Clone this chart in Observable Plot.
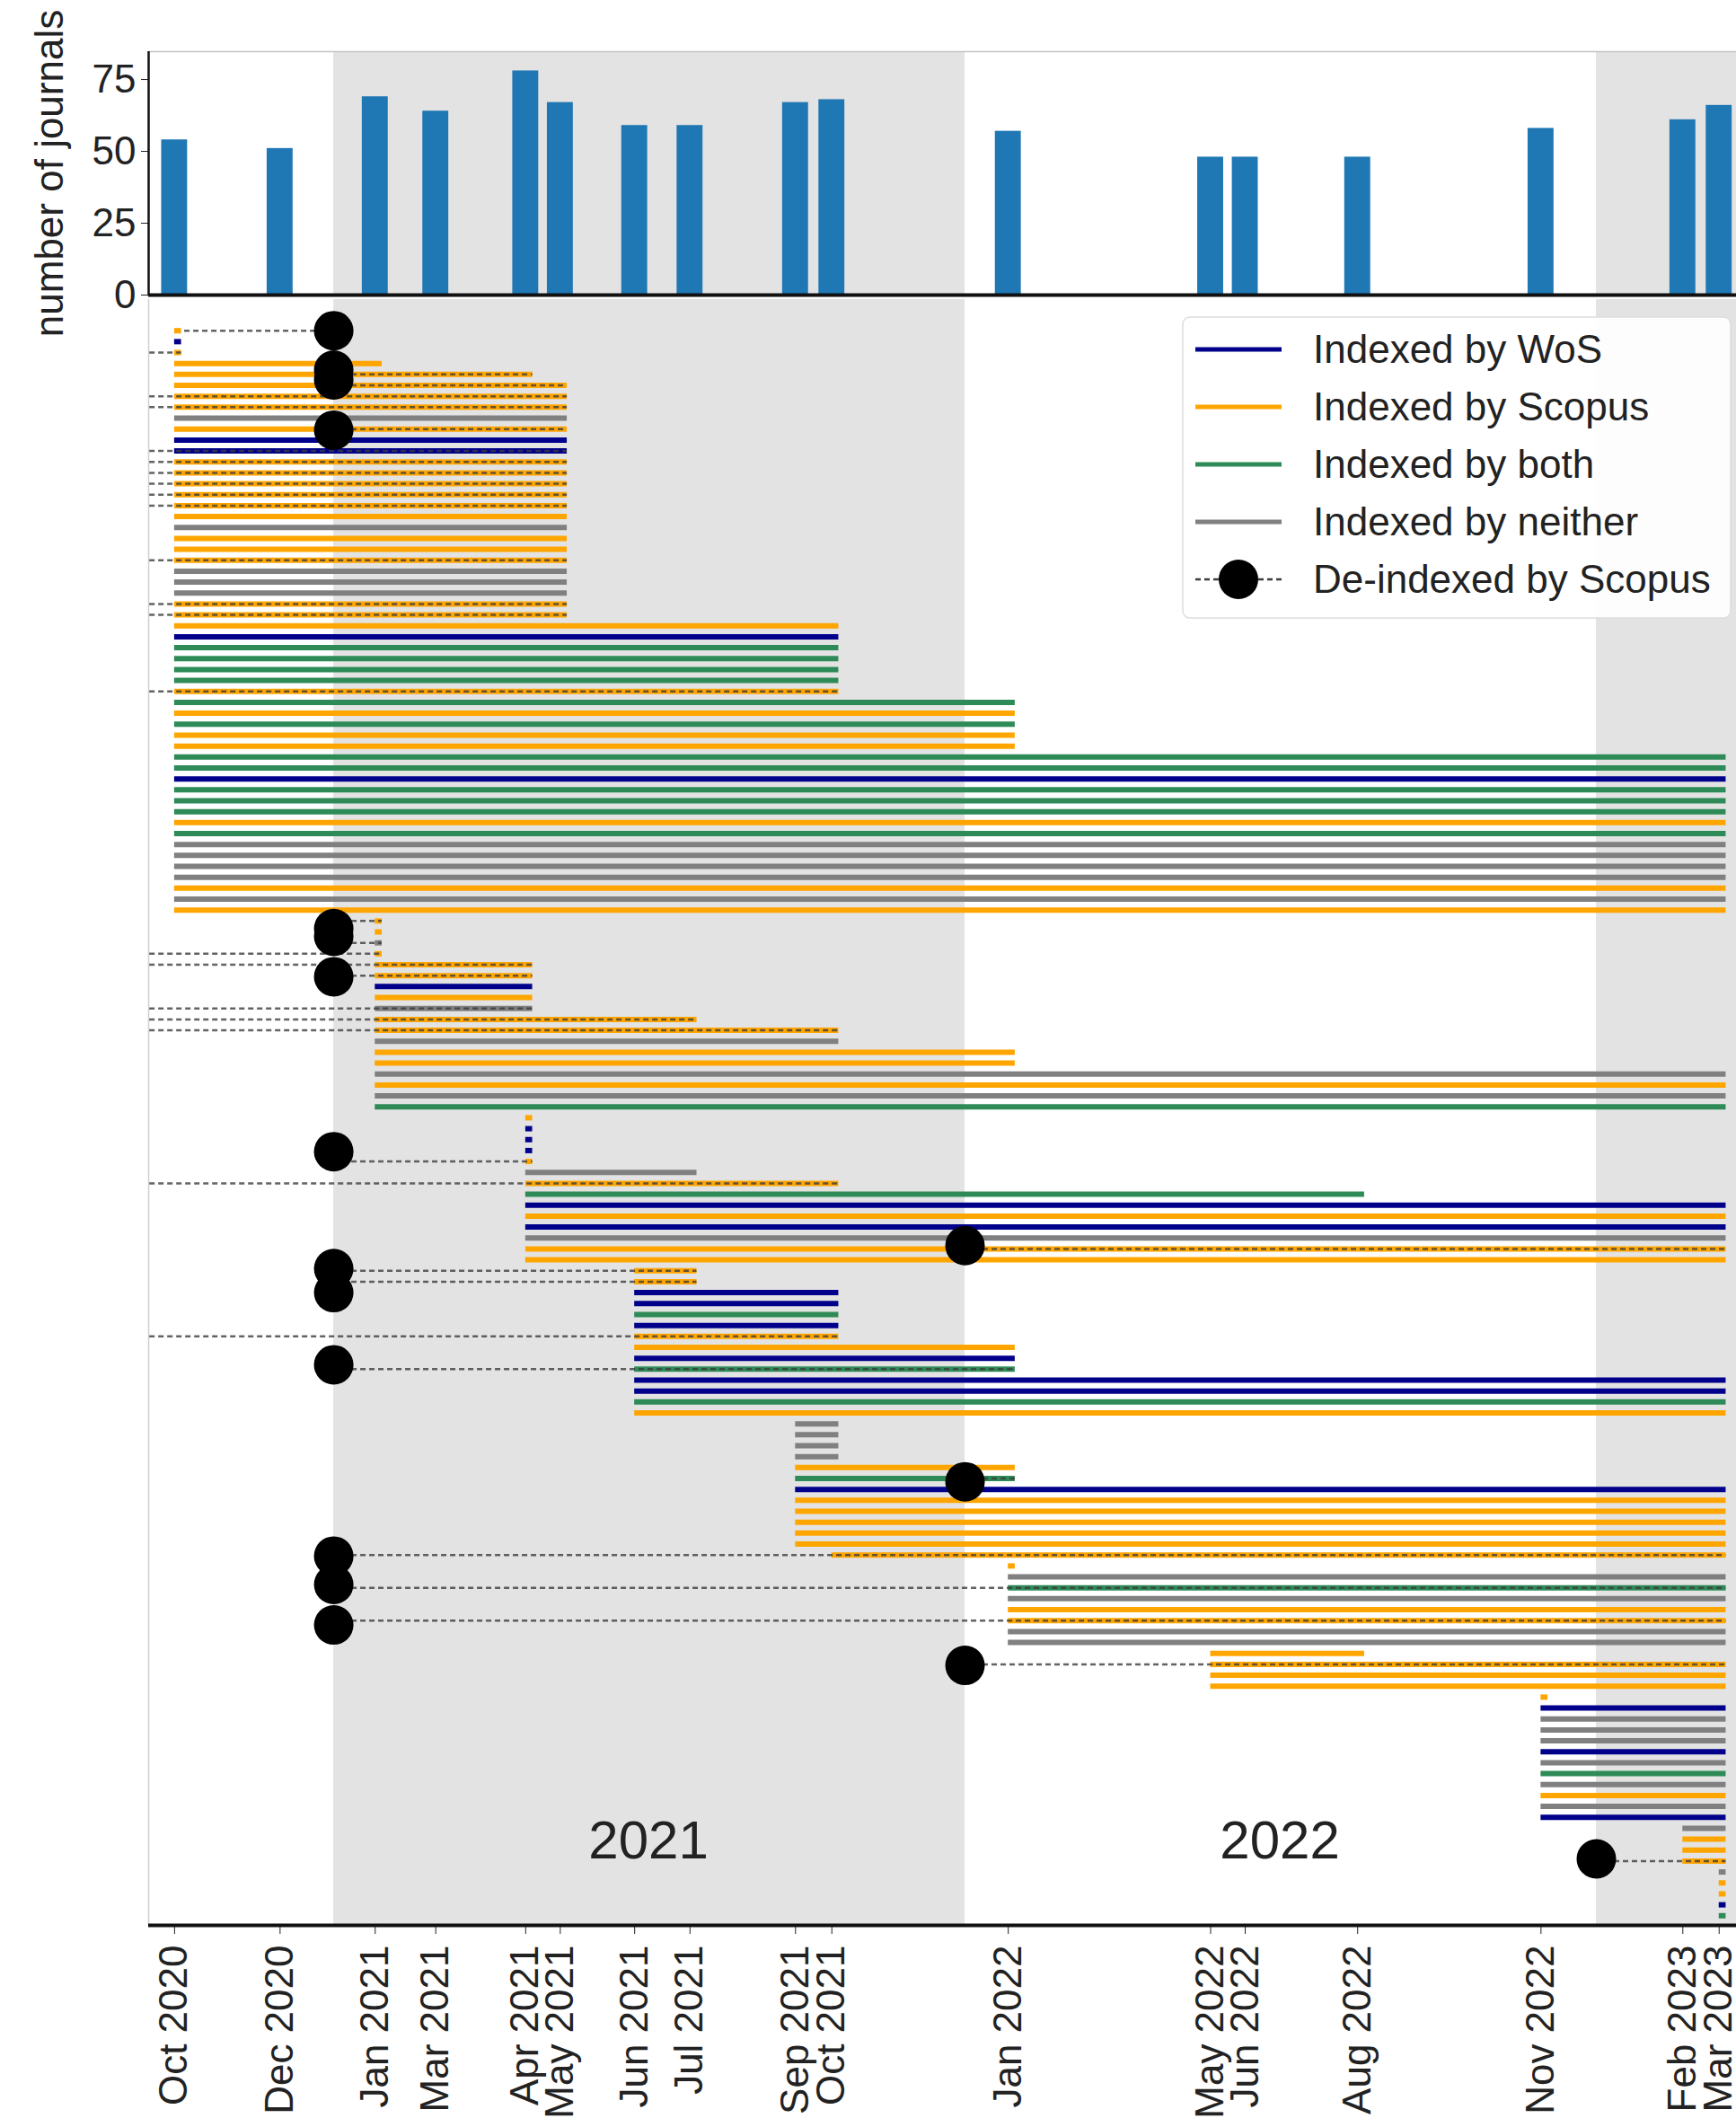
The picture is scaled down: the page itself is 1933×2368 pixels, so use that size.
<!DOCTYPE html>
<html>
<head>
<meta charset="utf-8">
<script src="https://cdn.jsdelivr.net/npm/d3@7"></script>
<script src="https://cdn.jsdelivr.net/npm/@observablehq/plot@0.6"></script>
<style>
  html, body { margin: 0; padding: 0; background: #ffffff; }
  #wrap { position: relative; width: 1933px; height: 2368px; overflow: hidden; background: #fff;
          font-family: "Liberation Sans", Arial, Helvetica, sans-serif; }
  #top, #bottom, #legend { position: absolute; left: 0; }
  #top { top: 0; z-index: 2; }
  #bottom { top: 330px; z-index: 1; }
  #legend { left: 1316px; top: 352px; z-index: 3; }
  svg { overflow: visible; }
</style>
</head>
<body>
<div id="wrap">
  <div id="top"></div>
  <div id="bottom"></div>
  <div id="legend"></div>
</div>
<script>
// ---------------- DATA ----------------
const snapshotLabels = ["Oct 2020","Dec 2020","Jan 2021","Mar 2021","Apr 2021","May 2021","Jun 2021","Jul 2021",
  "Sep 2021","Oct 2021","Jan 2022","May 2022","Jun 2022","Aug 2022","Nov 2022","Feb 2023","Mar 2023"];
const snapshotDates = ["2020-10-01","2020-12-01","2021-01-25","2021-03-01","2021-04-22","2021-05-12","2021-06-24",
  "2021-07-26","2021-09-25","2021-10-16","2022-01-26","2022-05-23","2022-06-12","2022-08-16","2022-11-30",
  "2023-02-20","2023-03-13"];
const journalCounts = [54, 51, 69, 64, 78, 67, 59, 59, 67, 68, 57, 48, 48, 48, 58, 61, 66];

// Journals grouped by the snapshot where they first appear (index into snapshotDates)
const cohortStart = [0, 2, 4, 6, 8, 9, 10, 11, 14, 15, 16];
// Status per journal: W = WoS, S = Scopus, B = both, N = neither
const cohortStatus = [
  "SWSSSSSSNSWWSSSSSSNSSSNNNSSSWBBBBSBSBSSBBWBBBSBNNNNSNS",
  "SSNSSSWSNSSNSSNSNB",
  "SWWWSNSBWSWNSS",
  "SSWWBWSSWBWWBS",
  "NNNNSBWSSSSS",
  "S",
  "SNBNSSNN",
  "SSSS",
  "SWNNNWNBNSNW",
  "NSSS",
  "NSSWB"
];
// Last snapshot (index) in which each journal appears
const cohortEnds = [
  [0,0,0,2,4,5,5,5,5,5,5,5,5,5,5,5,5,5,5,5,5,5,5,5,5,5,5,9,9,9,9,9,9,9,10,10,10,10,10,16,16,16,16,16,16,16,16,16,16,16,16,16,16,16],
  [2,2,2,2,4,4,4,4,4,7,9,9,10,10,16,16,16,16],
  [4,4,4,4,4,7,9,13,16,16,16,16,16,16],
  [7,7,9,9,9,9,9,10,10,10,16,16,16,16],
  [9,9,9,9,10,10,16,16,16,16,16,16],
  [16],
  [10,16,16,16,16,16,16,16],
  [13,16,16,16],
  [14,16,16,16,16,16,16,16,16,16,16,16],
  [16,16,16,16],
  [16,16,16,16,16]
];

// De-indexed by Scopus: journal row, year of de-indexing (2020 = before the window), marker row
const deRow    = [0,2,4,5,6,7,9,11,12,13,14,15,16,21,25,26,33,54,56,57,58,59,62,63,64,76,78,84,86,87,92,95,105,112,115,118,122,140];
const deYear   = [2021,2020,2021,2021,2020,2020,2021,2020,2020,2020,2020,2020,2020,2020,2020,2020,2020,2021,2021,2020,2020,2021,2020,2020,2020,2021,2020,2022,2021,2021,2020,2021,2022,2021,2021,2021,2022,2023];
const deDotRow = [0,null,3.6,4.5,null,null,9.1,null,null,null,null,null,null,null,null,null,null,54.7,55.4,null,null,59.1,null,null,null,75.1,null,83.7,85.8,88.0,null,94.6,105.3,112.1,114.7,118.4,122.1,139.8];

const statusCodes  = ["W","S","B","N"];
const statusLabels = ["Indexed by WoS","Indexed by Scopus","Indexed by both","Indexed by neither"];
const statusColors = ["#00008b","#ffa500","#2e8b57","#808080"];
const shadedYears  = [2021, 2023];
const yearLabels   = [2021, 2022];

// ---------------- BUILD ----------------
const FONT = '"Liberation Sans", Arial, Helvetica, sans-serif';
const parse = d3.utcParse("%Y-%m-%d");
const snapDates = snapshotDates.map(parse);
const labelByTime = new Map(snapDates.map((d, i) => [+d, snapshotLabels[i]]));
const xDomain = [parse("2020-09-16"), parse("2023-03-23")];
const jan1 = y => new Date(Date.UTC(y, 0, 1));
const endPad = d => d3.utcDay.offset(d, 4);

const rows = [];
cohortStart.forEach((s, c) => {
  cohortStatus[c].split("").forEach((code, k) => {
    rows.push({row: rows.length, status: code, start: snapDates[s], end: snapDates[cohortEnds[c][k]]});
  });
});

const deData = deRow.map((r, i) => ({
  row: r, date: jan1(deYear[i]), end: endPad(rows[r].end), dotRow: deDotRow[i]
}));
const deDots = deData.filter(d => d.dotRow !== null);

const bars = snapDates.map((d, i) => ({date: d, count: journalCounts[i]}));
const shades = shadedYears.map(y => ({from: jan1(y), to: jan1(y + 1)}));

const yTopMax = 84.7;
const yRowDomain = [-2.85, 145.88];

// ---- Top panel: number of journals per snapshot ----
const topPlot = Plot.plot({
  width: 1933, height: 330,
  marginLeft: 165, marginRight: 0, marginTop: 57, marginBottom: 2,
  style: {fontFamily: FONT, fontSize: "44px", color: "#222", background: "transparent", overflow: "visible"},
  x: {type: "utc", domain: xDomain, axis: null},
  y: {domain: [0, yTopMax], ticks: [0, 25, 50, 75], tickSize: 8, tickPadding: 6, label: null},
  marks: [
    Plot.rect(shades, {x1: "from", x2: "to", fill: "#e3e3e3", clip: true}),
    Plot.rectY(bars, {
      x1: d => d3.utcHour.offset(d.date, -180),
      x2: d => d3.utcHour.offset(d.date, 180),
      y: "count", fill: "#1f77b4"
    }),
    Plot.ruleY([yTopMax], {stroke: "#c4c4c4", strokeWidth: 1.5}),
    Plot.ruleX([xDomain[0]], {stroke: "#111", strokeWidth: 2.5}),
    Plot.ruleY([0], {stroke: "#111", strokeWidth: 4}),
    Plot.text(["number of journals"], {
      text: d => d, frameAnchor: "left", dx: -110, rotate: -90,
      textAnchor: "middle", lineAnchor: "middle", fontSize: 44, fill: "#222"
    })
  ]
});
document.getElementById("top").appendChild(topPlot);

// ---- Bottom panel: journal timelines ----
const lowPlot = Plot.plot({
  width: 1933, height: 2038,
  marginLeft: 165, marginRight: 0, marginTop: 3, marginBottom: 225,
  style: {fontFamily: FONT, fontSize: "44px", color: "#222", background: "transparent", overflow: "visible"},
  x: {
    type: "utc", domain: xDomain, ticks: snapDates,
    tickFormat: d => labelByTime.get(+d) || "",
    tickRotate: -90, tickSize: 10, tickPadding: 12, label: null
  },
  y: {domain: yRowDomain, reverse: true, axis: null},
  color: {domain: statusCodes, range: statusColors},
  marks: [
    Plot.rect(shades, {x1: "from", x2: "to", fill: "#e3e3e3", clip: true}),
    Plot.ruleX([xDomain[0]], {stroke: "#d0d0d0", strokeWidth: 1.5}),
    Plot.ruleY(rows, {y: "row", x1: "start", x2: d => endPad(d.end), stroke: "status", strokeWidth: 6}),
    Plot.ruleY(deData, {
      y: "row", x1: "date", x2: "end", stroke: "#3c3c3c", strokeWidth: 2.5,
      strokeDasharray: "6,4", strokeOpacity: 0.8, clip: true
    }),
    Plot.dot(deDots, {x: "date", y: "dotRow", r: 22, fill: "black", stroke: "none"}),
    Plot.text(yearLabels, {
      x: y => new Date(Date.UTC(y, 6, 2)), text: y => String(y),
      frameAnchor: "bottom", dy: -94, fontSize: 60, fill: "#222", lineAnchor: "middle"
    }),
    Plot.ruleY([yRowDomain[1]], {stroke: "#111", strokeWidth: 4})
  ]
});
document.getElementById("bottom").appendChild(lowPlot);

// ---- Legend ----
const legW = 612, legH = 337;
const leg = d3.select("#legend").append("svg").attr("width", legW).attr("height", legH)
  .style("font-family", FONT);
leg.append("rect").attr("x", 1).attr("y", 1).attr("width", legW - 2).attr("height", legH - 2)
  .attr("rx", 8).attr("fill", "white").attr("fill-opacity", 0.93).attr("stroke", "#dddddd").attr("stroke-width", 1.5);
const entries = statusLabels.map((l, i) => ({label: l, color: statusColors[i]}));
entries.forEach((e, i) => {
  const cy = 37 + i * 64;
  leg.append("line").attr("x1", 15).attr("x2", 111).attr("y1", cy).attr("y2", cy)
    .attr("stroke", e.color).attr("stroke-width", 5);
  leg.append("text").attr("x", 146).attr("y", cy).attr("dy", "0.35em")
    .attr("font-size", 44).attr("fill", "#222").text(e.label);
});
{
  const cy = 37 + 4 * 64;
  leg.append("line").attr("x1", 15).attr("x2", 111).attr("y1", cy).attr("y2", cy)
    .attr("stroke", "#3c3c3c").attr("stroke-width", 2.5).attr("stroke-dasharray", "6,4");
  leg.append("circle").attr("cx", 63).attr("cy", cy).attr("r", 22).attr("fill", "black");
  leg.append("text").attr("x", 146).attr("y", cy).attr("dy", "0.35em")
    .attr("font-size", 44).attr("fill", "#222").text("De-indexed by Scopus");
}
</script>
</body>
</html>
